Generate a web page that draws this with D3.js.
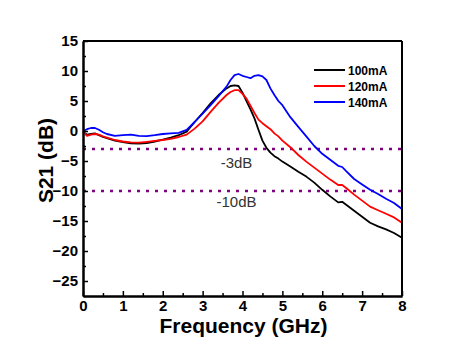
<!DOCTYPE html>
<html>
<head>
<meta charset="utf-8">
<script src="https://cdn.jsdelivr.net/npm/d3@7/dist/d3.min.js"></script>
<style>
  html, body { margin: 0; padding: 0; background: #fff; }
  svg { display: block; }
</style>
</head>
<body>
<svg id="chart" width="469" height="358"></svg>
<script>
// ---- data ----
const freq = [0, 0.1, 0.2, 0.3, 0.4, 0.5, 0.6, 0.8, 1.0, 1.2, 1.4, 1.6, 1.8, 2.0, 2.2, 2.4, 2.6, 2.8, 3.0, 3.2, 3.4, 3.6, 3.7, 3.8, 3.9, 4.0, 4.1, 4.2, 4.3, 4.4, 4.5, 4.6, 4.7, 4.8, 4.9, 5.0, 5.2, 5.4, 5.6, 5.8, 6.0, 6.2, 6.4, 6.5, 6.6, 6.8, 7.0, 7.2, 7.4, 7.6, 7.8, 8.0];
const s100 = [-0.1, -0.6, -0.5, -0.4, -0.7, -1.0, -1.2, -1.6, -1.85, -2.05, -2.1, -2.0, -1.75, -1.45, -1.1, -0.7, -0.1, 1.5, 3.0, 4.6, 6.0, 7.1, 7.5, 7.6, 7.5, 6.4, 5.0, 3.6, 2.1, 0.2, -1.6, -2.8, -3.6, -4.2, -4.6, -5.1, -5.9, -6.8, -7.6, -8.6, -9.8, -10.9, -11.9, -11.8, -12.3, -13.3, -14.3, -15.3, -15.9, -16.4, -17.0, -17.8];
const s120 = [-0.1, -0.8, -0.6, -0.5, -0.6, -0.9, -1.1, -1.5, -1.75, -1.9, -1.95, -1.8, -1.65, -1.5, -1.3, -1.0, -0.6, 0.4, 1.6, 3.2, 4.7, 6.0, 6.5, 6.8, 6.8, 6.2, 5.4, 4.2, 3.0, 1.9, 1.3, 0.8, 0.3, -0.4, -0.9, -1.6, -2.7, -4.0, -5.1, -6.1, -7.1, -8.1, -9.0, -9.0, -9.5, -10.6, -11.6, -12.6, -13.2, -13.8, -14.4, -15.3];
const s140 = [0, 0.3, 0.5, 0.5, 0.2, -0.2, -0.5, -0.8, -0.7, -0.6, -0.8, -0.85, -0.7, -0.5, -0.4, -0.3, 0.2, 1.5, 2.9, 4.3, 5.8, 7.4, 8.5, 9.3, 9.5, 9.2, 9.0, 8.8, 9.2, 9.3, 9.1, 8.5, 7.1, 6.0, 5.0, 4.3, 2.3, 0.7, -0.9, -2.5, -3.8, -4.8, -5.8, -6.0, -6.7, -8.0, -8.9, -9.8, -10.5, -11.3, -12.0, -13.0];
const seriesNames = ["100mA", "120mA", "140mA"];
const seriesColors = ["#000000", "#ff0000", "#0000ff"];
const xTicks = [0, 1, 2, 3, 4, 5, 6, 7, 8];
const yTicks = [15, 10, 5, 0, -5, -10, -15, -20, -25];
const refLevels = [-3, -10];
const refLabels = ["-3dB", "-10dB"];

// ---- layout ----
const svg = d3.select("#chart");
const L = 83, R = 402, T = 41, B = 296;
const x = d3.scaleLinear().domain([0, 8]).range([L, R]);
const y = d3.scaleLinear().domain([-27.5, 15]).range([B, T]);
const font = "Liberation Sans, Arial, sans-serif";

// reference dotted lines
refLevels.forEach((lv) => {
  svg.append("line")
    .attr("x1", x(0)).attr("x2", x(8))
    .attr("y1", y(lv)).attr("y2", y(lv))
    .attr("stroke", "#800080").attr("stroke-width", 2.5)
    .attr("stroke-dasharray", "3,6");
});
svg.append("text").attr("x", x(3.85)).attr("y", y(-3) + 19)
  .attr("text-anchor", "middle").attr("font-family", font)
  .attr("font-size", 15).attr("fill", "#333").text(refLabels[0]);
svg.append("text").attr("x", x(3.85)).attr("y", y(-10) + 16)
  .attr("text-anchor", "middle").attr("font-family", font)
  .attr("font-size", 15).attr("fill", "#333").text(refLabels[1]);

// curves
const line = d3.line().x((d, i) => x(freq[i])).y(d => y(d)).curve(d3.curveLinear);
[s100, s120, s140].forEach((s, k) => {
  svg.append("path").datum(s).attr("d", line)
    .attr("fill", "none").attr("stroke", seriesColors[k])
    .attr("stroke-width", 1.8).attr("stroke-linejoin", "round");
});

// frame (top + right without ticks)
svg.append("line").attr("x1", L).attr("x2", R).attr("y1", T).attr("y2", T)
  .attr("stroke", "#000").attr("stroke-width", 2);
svg.append("line").attr("x1", R).attr("x2", R).attr("y1", T).attr("y2", B)
  .attr("stroke", "#000").attr("stroke-width", 2);

// axes
const xAxis = d3.axisBottom(x).tickValues(xTicks).tickFormat(d3.format("d")).tickSizeInner(-5).tickSizeOuter(0).tickPadding(4);
const gx = svg.append("g").attr("transform", `translate(0,${B})`).call(xAxis);
const xMinor = d3.axisBottom(x).tickValues(d3.range(0.5, 8, 1)).tickFormat("").tickSizeInner(-3).tickSizeOuter(0);
const gxm = svg.append("g").attr("transform", `translate(0,${B})`).call(xMinor);

const yAxis = d3.axisLeft(y).tickValues(yTicks).tickFormat(d3.format("d")).tickSizeInner(-5).tickSizeOuter(0).tickPadding(5);
const gy = svg.append("g").attr("transform", `translate(${L},0)`).call(yAxis);
const yMinor = d3.axisLeft(y).tickValues([12.5, 7.5, 2.5, -2.5, -7.5, -12.5, -17.5, -22.5]).tickFormat("").tickSizeInner(-3).tickSizeOuter(0);
const gym = svg.append("g").attr("transform", `translate(${L},0)`).call(yMinor);

[gx, gxm, gy, gym].forEach(g => {
  g.select(".domain").attr("stroke", "#000").attr("stroke-width", 2);
  g.selectAll(".tick line").attr("stroke", "#000").attr("stroke-width", 1.5);
  g.selectAll(".tick text").attr("font-family", font).attr("font-size", 15)
    .attr("font-weight", "bold").attr("fill", "#000");
});
gx.selectAll(".tick text").attr("dy", "0.71em");

// axis titles
svg.append("text").attr("x", (L + R) / 2 + 1).attr("y", 333)
  .attr("text-anchor", "middle").attr("font-family", font)
  .attr("font-size", 21).attr("font-weight", "bold").text("Frequency (GHz)");
svg.append("text").attr("transform", `translate(53,${(T + B) / 2 - 8}) rotate(-90)`)
  .attr("text-anchor", "middle").attr("font-family", font)
  .attr("font-size", 21).attr("font-weight", "bold").text("S21 (dB)");

// legend
const legY = [70, 86, 102];
seriesNames.forEach((n, k) => {
  svg.append("line").attr("x1", 314).attr("x2", 345).attr("y1", legY[k]).attr("y2", legY[k])
    .attr("stroke", seriesColors[k]).attr("stroke-width", 2);
  svg.append("text").attr("x", 348).attr("y", legY[k] + 4.5)
    .attr("font-family", font).attr("font-size", 12).attr("font-weight", "bold")
    .text(n);
});
</script>
</body>
</html>
